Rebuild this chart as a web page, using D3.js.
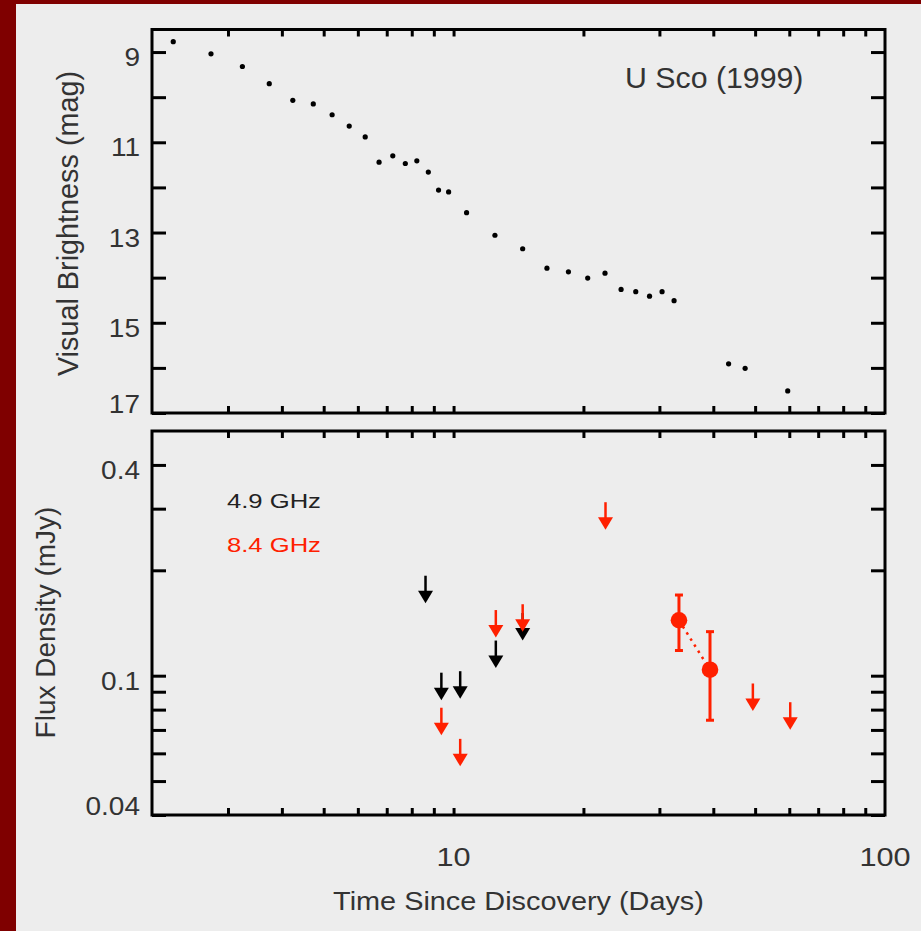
<!DOCTYPE html>
<html><head><meta charset="utf-8">
<script src="https://cdn.jsdelivr.net/npm/d3@7"></script>
<style>
html,body{margin:0;padding:0;background:#ededed;}
svg{display:block;}
text{font-family:"Liberation Sans",Arial,Helvetica,sans-serif;fill:#333;}
</style></head><body>
<svg id="c" width="921" height="931"></svg>
<script>
// ---- data ----
const magDays = [2.24, 2.74, 3.24, 3.74, 4.24, 4.73, 5.23, 5.73, 6.24, 6.72, 7.23, 7.73, 8.22, 8.74, 9.23, 9.74, 10.72, 12.47, 14.46, 16.46, 18.46, 20.46, 22.44, 24.45, 26.44, 28.46, 30.43, 32.44, 43.4, 47.4, 59.5];
const magValues = [8.77, 9.04, 9.32, 9.70, 10.07, 10.15, 10.39, 10.64, 10.88, 11.44, 11.30, 11.47, 11.41, 11.66, 12.06, 12.10, 12.56, 13.06, 13.36, 13.79, 13.87, 14.01, 13.90, 14.26, 14.31, 14.41, 14.31, 14.51, 15.91, 16.01, 16.51];

const lim49Days = [8.61, 9.37, 10.36, 12.53, 14.46];
const lim49Flux = [0.193, 0.102, 0.103, 0.126, 0.151];
const lim84Days = [9.37, 10.36, 12.53, 14.46, 22.5, 49.4, 60.3];
const lim84Flux = [0.081, 0.066, 0.154, 0.160, 0.313, 0.095, 0.084];
const det84Days = [33.3, 39.3];
const det84Flux = [0.144, 0.104];
const det84Lo = [0.118, 0.0746];
const det84Hi = [0.170, 0.1336];

const magTickLabels = [9, 11, 13, 15, 17];
const magTickAll = [9, 10, 11, 12, 13, 14, 15, 16, 17];
const fluxTickLabels = [0.4, 0.1, 0.04];
const fluxTickAll = [0.4, 0.3, 0.2, 0.1, 0.09, 0.08, 0.07, 0.06, 0.05, 0.04];
const dayTickLabels = [10, 100];
const dayTickAll = [3, 4, 5, 6, 7, 8, 9, 10, 20, 30, 40, 50, 60, 70, 80, 90];
const legendLabels = ["4.9 GHz", "8.4 GHz"];
const titleText = "U Sco (1999)";

// ---- layout ----
const RED = "#ff2000", BLACK = "#000";
const L = 152, R = 885;
const T1 = 29.5, B1 = 413, T2 = 431, B2 = 815;

const svg = d3.select("#c");
svg.append("rect").attr("x",0).attr("y",0).attr("width",921).attr("height",931).attr("fill","#ededed");
svg.append("rect").attr("x",0).attr("y",0).attr("width",16).attr("height",931).attr("fill","#7f0000");
svg.append("rect").attr("x",0).attr("y",0).attr("width",921).attr("height",4).attr("fill","#7f0000");

const x = d3.scaleLog().domain([2, 100]).range([L, R]);
const yMag = d3.scaleLinear().domain([8.5, 17]).range([T1, B1]);
const yFlux = d3.scaleLog().domain([0.5, 0.04]).range([T2, B2]);

function sText(g, str, px, py, size, sx, anchor, color){
  const t = g.append("g").attr("transform", `translate(${px},${py}) scale(${sx},1)`)
    .append("text").attr("x",0).attr("y",0).attr("font-size",size)
    .attr("text-anchor",anchor).text(str);
  if (color) t.style("fill", color);
  return t;
}

function axes(yScale, top, bottom, yTicks){
  const g = svg.append("g");
  g.append("g").attr("transform",`translate(${L},0)`)
    .call(d3.axisRight(yScale).tickValues(yTicks).tickSize(14).tickFormat(""))
    .call(s=>s.select(".domain").remove());
  g.append("g").attr("transform",`translate(${R},0)`)
    .call(d3.axisLeft(yScale).tickValues(yTicks).tickSize(14).tickFormat(""))
    .call(s=>s.select(".domain").remove());
  g.append("g").attr("transform",`translate(0,${top})`)
    .call(d3.axisBottom(x).tickValues(dayTickAll).tickSize(7).tickFormat(""))
    .call(s=>s.select(".domain").remove());
  g.append("g").attr("transform",`translate(0,${bottom})`)
    .call(d3.axisTop(x).tickValues(dayTickAll).tickSize(7).tickFormat(""))
    .call(s=>s.select(".domain").remove());
  g.selectAll(".tick line").attr("stroke","#000").attr("stroke-width",3);
  g.append("rect").attr("x",L).attr("y",top).attr("width",R-L).attr("height",bottom-top)
    .attr("fill","none").attr("stroke","#000").attr("stroke-width",3);
}

axes(yMag, T1, B1, magTickAll);
axes(yFlux, T2, B2, fluxTickAll);

const lab = svg.append("g");
magTickLabels.forEach(v=>{
  sText(lab, String(v), 140, Math.min(yMag(v)+14, B1), 25, 1.12, "end");
});
fluxTickLabels.forEach(v=>{
  sText(lab, String(v), 140, Math.min(yFlux(v)+14, B2), 25, 1.12, "end");
});
dayTickLabels.forEach(v=>{
  sText(lab, String(v), x(v), 866, 26, 1.18, "middle");
});

sText(lab, "Time Since Discovery (Days)", 518.5, 910, 26, 1.11, "middle");
lab.append("text").attr("transform","translate(77.5,223.5) rotate(-90)")
  .attr("text-anchor","middle").attr("font-size",28.8).text("Visual Brightness (mag)");
lab.append("text").attr("transform","translate(55,622.5) rotate(-90)")
  .attr("text-anchor","middle").attr("font-size",28).text("Flux Density (mJy)");

sText(lab, titleText, 625, 87.5, 30, 1.01, "start");
sText(lab, legendLabels[0], 227, 508.3, 20.5, 1.25, "start", "#222");
sText(lab, legendLabels[1], 227, 551.7, 20.5, 1.25, "start", RED);

svg.append("g").selectAll("circle").data(magDays).join("circle")
  .attr("cx",(d)=>x(d)).attr("cy",(d,i)=>yMag(magValues[i])).attr("r",2.6).attr("fill","#000");

function arrows(days, flux, color){
  const g = svg.append("g");
  days.forEach((d,i)=>{
    const px = x(d), top = yFlux(flux[i]), tip = top + 27.5;
    g.append("line").attr("x1",px).attr("x2",px).attr("y1",top).attr("y2",tip-10)
      .attr("stroke",color).attr("stroke-width",2.5);
    g.append("path").attr("d",`M${px-7.5},${tip-12.5}L${px+7.5},${tip-12.5}L${px},${tip}Z`).attr("fill",color);
  });
}
arrows(lim49Days, lim49Flux, BLACK);
arrows(lim84Days, lim84Flux, RED);

const dg = svg.append("g");
dg.append("path")
  .attr("d", d3.line().x((d)=>x(d)).y((d,i)=>yFlux(det84Flux[i]))(det84Days))
  .attr("fill","none").attr("stroke",RED).attr("stroke-width",2.5).attr("stroke-dasharray","2.5,4.7");
det84Days.forEach((d,i)=>{
  const px = x(d);
  dg.append("line").attr("x1",px).attr("x2",px).attr("y1",yFlux(det84Hi[i])).attr("y2",yFlux(det84Lo[i]))
    .attr("stroke",RED).attr("stroke-width",3);
  [det84Hi[i], det84Lo[i]].forEach(v=>{
    dg.append("line").attr("x1",px-4).attr("x2",px+4).attr("y1",yFlux(v)).attr("y2",yFlux(v))
      .attr("stroke",RED).attr("stroke-width",3);
  });
  dg.append("circle").attr("cx",px).attr("cy",yFlux(det84Flux[i])).attr("r",8.3).attr("fill",RED);
});
</script>
</body></html>
